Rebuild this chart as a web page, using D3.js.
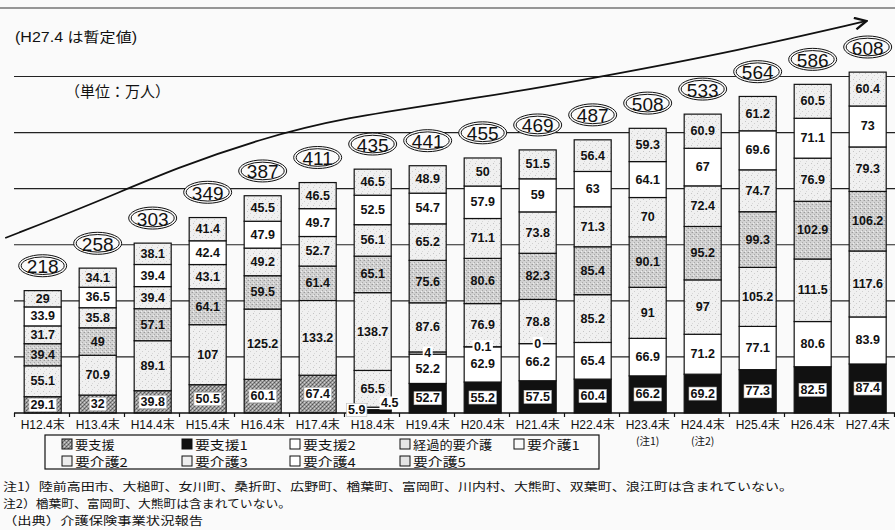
<!DOCTYPE html>
<html><head><meta charset="utf-8">
<script src="https://cdn.jsdelivr.net/npm/d3@7/dist/d3.min.js"></script>
<style>body{margin:0;background:#fafafa}svg{display:block}</style>
</head><body><svg id="c" width="895" height="530"></svg>
<script>
// ---------- data ----------
const categories = ["H12.4末","H13.4末","H14.4末","H15.4末","H16.4末","H17.4末","H18.4末","H19.4末","H20.4末","H21.4末","H22.4末","H23.4末","H24.4末","H25.4末","H26.4末","H27.4末"];
const categoryNotes = ["","","","","","","","","","","","(注1)","(注2)","","",""];
const totals = [218,258,303,349,387,411,435,441,455,469,487,508,533,564,586,608];
const seriesKeys = ["要支援","要支援1","要支援2","経過的要介護","要介護1","要介護2","要介護3","要介護4","要介護5"];
const yoshien     = [29.1,32,39.8,50.5,60.1,67.4,null,null,null,null,null,null,null,null,null,null];
const yoshien1    = [null,null,null,null,null,null,5.9,52.7,55.2,57.5,60.4,66.2,69.2,77.3,82.5,87.4];
const yoshien2    = [null,null,null,null,null,null,4.5,52.2,62.9,66.2,65.4,66.9,71.2,77.1,80.6,83.9];
const keika       = [null,null,null,null,null,null,65.5,4,0.1,0,null,null,null,null,null,null];
const kaigo1      = [55.1,70.9,89.1,107,125.2,133.2,138.7,87.6,76.9,78.8,85.2,91,97,105.2,111.5,117.6];
const kaigo2      = [39.4,49,57.1,64.1,59.5,61.4,65.1,75.6,80.6,82.3,85.4,90.1,95.2,99.3,102.9,106.2];
const kaigo3      = [31.7,35.8,39.4,43.1,49.2,52.7,56.1,65.2,71.1,73.8,71.3,70,72.4,74.7,76.9,79.3];
const kaigo4      = [33.9,36.5,39.4,42.4,47.9,49.7,52.5,54.7,57.9,59,63,64.1,67,69.6,71.1,73];
const kaigo5      = [29,34.1,38.1,41.4,45.5,46.5,46.5,48.9,50,51.5,56.4,59.3,60.9,61.2,60.5,60.4];
const gridValues  = [100,200,300,400,500,600];
// trend arrow in data units: [category position, value]
const arrowPoints = [[-0.16,312],[1.38,371],[3.02,440],[4.47,488],[5.93,526],[8.47,562],[10.65,599],[13.2,647],[15.5,699]];
const headerNote = "(H27.4 は暫定値)";
const unitLabel = "（単位：万人）";
const footNotes = ["注1）陸前高田市、大槌町、女川町、桑折町、広野町、楢葉町、富岡町、川内村、大熊町、双葉町、浪江町は含まれていない。",
                   "注2）楢葉町、富岡町、大熊町は含まれていない。",
                   "（出典）介護保険事業状況報告"];

const seriesValues = [yoshien,yoshien1,yoshien2,keika,kaigo1,kaigo2,kaigo3,kaigo4,kaigo5];

// ---------- style ----------
const fills = {"要支援":"url(#pYoshien)","要支援1":"#111","要支援2":"#fff","経過的要介護":"url(#pLight)",
  "要介護1":"url(#pLight)","要介護2":"url(#pMid)","要介護3":"url(#pLight)","要介護4":"#fff","要介護5":"url(#pLight)"};
const legendFills = {"要支援":"url(#pYoshien)","要支援1":"#111","要支援2":"#fff","経過的要介護":"#e6e6e6",
  "要介護1":"#fafafa","要介護2":"#ececec","要介護3":"#efefef","要介護4":"#fff","要介護5":"#e4e4e4"};
const boxedSeries = new Set(["要支援","要支援1"]);
const labelOffsets = {"要支援1|6":{dx:-16,dy:1,bg:true},"要支援2|6":{dx:17,dy:-6,bg:true}};
const FONT_NUM = "'Liberation Sans', Arial, sans-serif";
const FONT_JP = "'Liberation Sans','Noto Sans CJK JP', sans-serif";
const FONT_CJK = "'Noto Sans CJK JP', sans-serif";

const svg = d3.select("#c");
const W = 895, H = 530;
svg.append("rect").attr("width",W).attr("height",H).attr("fill","#fafafa");

const defs = svg.append("defs");
function pattern(id, size, bg, dots){
  const p = defs.append("pattern").attr("id",id).attr("width",size).attr("height",size).attr("patternUnits","userSpaceOnUse");
  p.append("rect").attr("width",size).attr("height",size).attr("fill",bg);
  dots.forEach(d=>p.append("rect").attr("x",d[0]).attr("y",d[1]).attr("width",1).attr("height",1).attr("fill",d[2]));
}
pattern("pYoshien",4,"#9c9c9c",[[0,0,"#555"],[2,2,"#555"],[2,0,"#d0d0d0"],[0,2,"#d0d0d0"],[1,3,"#777"],[3,1,"#777"]]);
pattern("pLight",6,"#f0f0f0",[[1,1,"#c4c4c4"],[4,3,"#cfcfcf"],[2,5,"#d8d8d8"]]);
pattern("pMid",4,"#d2d2d2",[[0,0,"#9a9a9a"],[2,2,"#a8a8a8"],[3,0,"#bdbdbd"],[1,3,"#eeeeee"]]);

// ---------- scales ----------
const y = d3.scaleLinear().domain([0,600]).range([413,76.5]);
const xBand = d3.scaleBand().domain(categories).range([14,894]).padding(0);
const xPos = d3.scaleLinear().domain([0,categories.length]).range([14,894]);
const barX = c => xBand(c) + xBand.bandwidth()*0.185;
const barW = xBand.bandwidth()*0.673;
const barC = c => barX(c) + barW/2;

// top rule
svg.append("line").attr("x1",0).attr("x2",W).attr("y1",8).attr("y2",8).attr("stroke","#333").attr("stroke-width",1.2);

// gridlines
svg.append("g").selectAll("line").data(gridValues).join("line")
  .attr("x1",14).attr("x2",W).attr("y1",d=>y(d)).attr("y2",d=>y(d))
  .attr("stroke","#222").attr("stroke-width",1.1);

// header texts
svg.append("text").attr("x",15).attr("y",37).attr("dominant-baseline","central")
  .attr("font-family",FONT_JP).attr("font-size",14).attr("fill","#111")
  .attr("textLength",122).attr("lengthAdjust","spacingAndGlyphs").text(headerNote);
svg.append("text").attr("x",65).attr("y",90).attr("dominant-baseline","central")
  .attr("font-family",FONT_CJK).attr("font-size",15).attr("fill","#111").text(unitLabel);

// arrow
defs.append("marker").attr("id","arrowHead").attr("viewBox","0 0 12 12").attr("refX",11).attr("refY",6)
  .attr("markerWidth",14).attr("markerHeight",14).attr("markerUnits","userSpaceOnUse").attr("orient","auto")
  .append("path").attr("d","M1,1 L11,6 L1,11").attr("fill","none").attr("stroke","#111").attr("stroke-width",2);
const arrowLine = d3.line().x(d=>xPos(d[0])).y(d=>y(d[1])).curve(d3.curveBasis);
svg.append("path").attr("d",arrowLine(arrowPoints)).attr("fill","none").attr("stroke","#111")
  .attr("stroke-width",1.8).attr("marker-end","url(#arrowHead)");

// stacked data
const table = categories.map((c,i)=>{
  const row = {cat:c};
  seriesKeys.forEach((k,j)=>{ row[k] = seriesValues[j][i]==null ? 0 : seriesValues[j][i]; });
  return row;
});
const stacked = d3.stack().keys(seriesKeys)(table);

// bars
const gBars = svg.append("g");
stacked.forEach((layer,j)=>{
  const key = layer.key;
  gBars.selectAll(null).data(layer.map((d,i)=>({d,i}))).join("rect")
    .filter(o=>seriesValues[j][o.i]!=null)
    .attr("x",o=>barX(categories[o.i])).attr("width",barW)
    .attr("y",o=>y(o.d[1])).attr("height",o=>Math.max(0,y(o.d[0])-y(o.d[1])))
    .attr("fill",fills[key]).attr("stroke","#111").attr("stroke-width",1.2);
});

// axis (ticks at band boundaries)
const axis = d3.axisBottom(xPos).tickValues(d3.range(0,categories.length+1)).tickFormat("").tickSize(4).tickSizeOuter(0);
const gAxis = svg.append("g").attr("transform",`translate(0,${y(0)})`).call(axis);
gAxis.select(".domain").attr("stroke","#111").attr("stroke-width",1.3).attr("d",`M14,0H${W}`);
gAxis.selectAll(".tick line").attr("stroke","#111").attr("stroke-width",1.2);

// segment labels
const gLab = svg.append("g").attr("font-family",FONT_NUM).attr("font-size",12.5).attr("font-weight","bold").attr("fill","#111");
stacked.forEach((layer,j)=>{
  const key = layer.key;
  layer.forEach((d,i)=>{
    const v = seriesValues[j][i];
    if(v==null) return;
    const c = categories[i];
    let cx = barC(c), cy = (y(d[0])+y(d[1]))/2;
    const off = labelOffsets[key+"|"+i];
    let bg = boxedSeries.has(key) || v < 6;
    if(off){ cx += off.dx; cy = y(0) + off.dy - 4; bg = off.bg; }
    const t = gLab.append("text").attr("x",cx).attr("y",cy).attr("text-anchor","middle")
      .attr("dominant-baseline","central").text(String(v));
    if(bg){
      const bb = t.node().getBBox();
      gLab.insert("rect","text:last-child").attr("x",bb.x-1.5).attr("y",bb.y+0.5).attr("width",bb.width+3).attr("height",bb.height-1)
        .attr("fill","#fff").attr("stroke", boxedSeries.has(key) ? "#bbb":"none").attr("stroke-width",0.6);
      t.raise();
    }
  });
});

// totals with double ellipses
const gTot = svg.append("g");
categories.forEach((c,i)=>{
  const cx = barC(c), cy = y(totals[i]) - 25;
  gTot.append("ellipse").attr("cx",cx).attr("cy",cy).attr("rx",24).attr("ry",11).attr("fill","#fafafa").attr("stroke","#111").attr("stroke-width",1);
  gTot.append("ellipse").attr("cx",cx).attr("cy",cy).attr("rx",21.5).attr("ry",8.8).attr("fill","none").attr("stroke","#111").attr("stroke-width",1);
  gTot.append("text").attr("x",cx).attr("y",cy+1).attr("text-anchor","middle").attr("dominant-baseline","central")
    .attr("font-family",FONT_NUM).attr("font-size",19).attr("fill","#111").text(totals[i]);
});

// category labels
const gCat = svg.append("g").attr("font-family",FONT_JP).attr("font-size",12).attr("fill","#111").attr("text-anchor","middle");
categories.forEach((c,i)=>{
  gCat.append("text").attr("x",barC(c)).attr("y",425).attr("dominant-baseline","central").text(c);
  if(categoryNotes[i]) gCat.append("text").attr("x",barC(c)).attr("y",440).attr("dominant-baseline","central")
    .attr("font-family",FONT_CJK).attr("font-size",10.5).text(categoryNotes[i]);
});

// legend
const legendCols = [62,182,290,400,514], legendRows = [444,461];
svg.append("rect").attr("x",45).attr("y",435).attr("width",554).attr("height",34).attr("fill","none").attr("stroke","#111").attr("stroke-width",1.2);
const gLeg = svg.append("g").attr("font-family",FONT_CJK).attr("font-size",12).attr("fill","#111");
seriesKeys.forEach((k,i)=>{
  const col = i<5 ? i : i-5, row = i<5 ? 0 : 1;
  const lx = legendCols[col], ly = legendRows[row];
  gLeg.append("rect").attr("x",lx).attr("y",ly-5).attr("width",10).attr("height",10).attr("fill",legendFills[k]).attr("stroke","#111").attr("stroke-width",1);
  gLeg.append("text").attr("x",lx+13).attr("y",ly).attr("dominant-baseline","central")
    .attr("textLength",k.length*13.2).attr("lengthAdjust","spacingAndGlyphs").text(k);
});

// footnotes
const noteY = [486,503,520], noteLen = [790,288,200];
footNotes.forEach((t,i)=>{
  svg.append("text").attr("x",3).attr("y",noteY[i]).attr("dominant-baseline","central")
    .attr("font-family",FONT_CJK).attr("font-size",11.5).attr("fill","#111")
    .attr("textLength",noteLen[i]).attr("lengthAdjust","spacingAndGlyphs").text(t);
});
</script></body></html>
